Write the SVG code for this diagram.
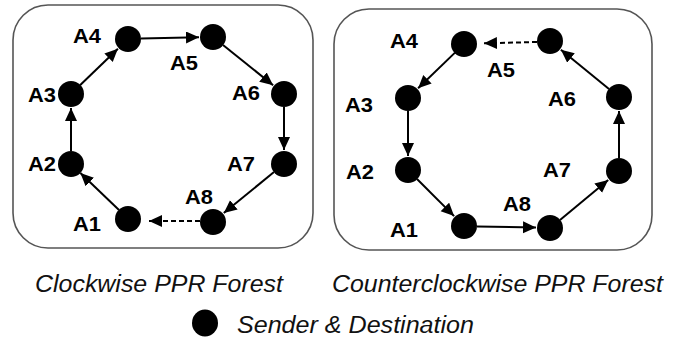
<svg xmlns="http://www.w3.org/2000/svg" width="681" height="341" viewBox="0 0 681 341">
<defs>
<marker id="ah" markerUnits="userSpaceOnUse" markerWidth="14" markerHeight="13" refX="13" refY="6" orient="auto">
<path d="M0,0 L13,6 L0,12 z" fill="#000"/>
</marker>
<style>
.box{fill:#fff;stroke:#555;stroke-width:1.6}
.n{fill:#000}
.lb{font-family:"Liberation Sans",Arial,sans-serif;font-weight:bold;font-size:20px;fill:#000}
.cap{font-family:"Liberation Sans",Arial,sans-serif;font-style:italic;font-size:23px;fill:#111}
.e{stroke:#000;stroke-width:2;fill:none;marker-end:url(#ah)}
.d{stroke-dasharray:5,3}
</style>
</defs>
<rect width="681" height="341" fill="#fff"/>
<g id="frame-cw"><rect class="box" x="13" y="5" width="300" height="243" rx="35"/></g>
<g id="frame-ccw"><rect class="box" x="334" y="9" width="318" height="241" rx="35"/></g>
<g id="connectors">
<line class="e" x1="119" y1="210" x2="80.4" y2="173"/>
<line class="e" x1="71" y1="151" x2="71" y2="108"/>
<line class="e" x1="80" y1="85.3" x2="117.9" y2="48.7"/>
<line class="e" x1="141" y1="38.5" x2="199" y2="37.3"/>
<line class="e" x1="223" y1="45" x2="273.1" y2="85.2"/>
<line class="e" x1="284" y1="107" x2="284" y2="150"/>
<line class="e" x1="274" y1="172" x2="223.8" y2="213.1"/>
<line class="e d" x1="200" y1="221" x2="149" y2="221"/>
<line class="e" x1="455" y1="52.6" x2="418.1" y2="88.3"/>
<line class="e" x1="408" y1="111" x2="408" y2="156"/>
<line class="e" x1="417" y1="179" x2="454.1" y2="216.1"/>
<line class="e" x1="477" y1="226.5" x2="536" y2="227.5"/>
<line class="e" x1="560" y1="220" x2="608.2" y2="179.9"/>
<line class="e" x1="619" y1="158" x2="619" y2="111"/>
<line class="e" x1="609" y1="89" x2="560.9" y2="49.8"/>
<line class="e d" x1="537" y1="42" x2="484" y2="43.3"/>
</g>
<g id="cw-A1"><circle class="n" cx="128" cy="219" r="13"/><text class="lb" x="73" y="231" textLength="28" lengthAdjust="spacingAndGlyphs">A1</text></g>
<g id="cw-A2"><circle class="n" cx="71" cy="164" r="13"/><text class="lb" x="28" y="171" textLength="28" lengthAdjust="spacingAndGlyphs">A2</text></g>
<g id="cw-A3"><circle class="n" cx="71" cy="94" r="13"/><text class="lb" x="28" y="102" textLength="28" lengthAdjust="spacingAndGlyphs">A3</text></g>
<g id="cw-A4"><circle class="n" cx="128" cy="39" r="13"/><text class="lb" x="73" y="43" textLength="28" lengthAdjust="spacingAndGlyphs">A4</text></g>
<g id="cw-A5"><circle class="n" cx="213" cy="37" r="13"/><text class="lb" x="170" y="70" textLength="28" lengthAdjust="spacingAndGlyphs">A5</text></g>
<g id="cw-A6"><circle class="n" cx="284" cy="94" r="13"/><text class="lb" x="232" y="100" textLength="28" lengthAdjust="spacingAndGlyphs">A6</text></g>
<g id="cw-A7"><circle class="n" cx="284" cy="164" r="13"/><text class="lb" x="227" y="171" textLength="28" lengthAdjust="spacingAndGlyphs">A7</text></g>
<g id="cw-A8"><circle class="n" cx="213" cy="222" r="13"/><text class="lb" x="185" y="204" textLength="28" lengthAdjust="spacingAndGlyphs">A8</text></g>
<g id="ccw-A1"><circle class="n" cx="464" cy="226" r="13"/><text class="lb" x="390" y="237" textLength="28" lengthAdjust="spacingAndGlyphs">A1</text></g>
<g id="ccw-A2"><circle class="n" cx="408" cy="170" r="13"/><text class="lb" x="346" y="179" textLength="28" lengthAdjust="spacingAndGlyphs">A2</text></g>
<g id="ccw-A3"><circle class="n" cx="408" cy="98" r="13"/><text class="lb" x="345" y="112" textLength="28" lengthAdjust="spacingAndGlyphs">A3</text></g>
<g id="ccw-A4"><circle class="n" cx="464" cy="44" r="13"/><text class="lb" x="390" y="48" textLength="28" lengthAdjust="spacingAndGlyphs">A4</text></g>
<g id="ccw-A5"><circle class="n" cx="550" cy="41" r="13"/><text class="lb" x="487" y="77" textLength="28" lengthAdjust="spacingAndGlyphs">A5</text></g>
<g id="ccw-A6"><circle class="n" cx="619" cy="97" r="13"/><text class="lb" x="548" y="106" textLength="28" lengthAdjust="spacingAndGlyphs">A6</text></g>
<g id="ccw-A7"><circle class="n" cx="619" cy="171" r="13"/><text class="lb" x="543" y="177" textLength="28" lengthAdjust="spacingAndGlyphs">A7</text></g>
<g id="ccw-A8"><circle class="n" cx="550" cy="228" r="13"/><text class="lb" x="503" y="211" textLength="28" lengthAdjust="spacingAndGlyphs">A8</text></g>
<g id="captions">
<text class="cap" x="35" y="292" textLength="248" lengthAdjust="spacingAndGlyphs">Clockwise PPR Forest</text>
<text class="cap" x="332" y="292" textLength="331" lengthAdjust="spacingAndGlyphs">Counterclockwise PPR Forest</text>
</g>
<g id="legend">
<ellipse class="n" cx="205" cy="323" rx="13" ry="13.5"/>
<text class="cap" x="237" y="333" textLength="237" lengthAdjust="spacingAndGlyphs">Sender &amp; Destination</text>
</g>
</svg>
